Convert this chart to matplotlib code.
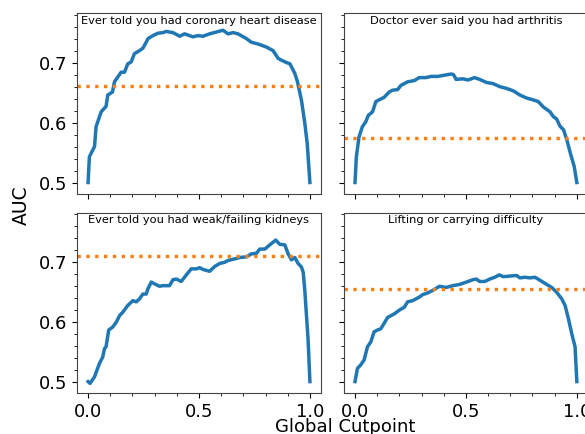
# plot AUC against global cutpoint for four conditions
import matplotlib
matplotlib.use('Agg')
import matplotlib.pyplot as plt
from matplotlib.ticker import MultipleLocator

# panel titles
titles = ['Ever told you had coronary heart disease',
          'Doctor ever said you had arthritis',
          'Ever told you had weak/failing kidneys',
          'Lifting or carrying difficulty']

# baseline AUC for each panel (orange dotted line)
baselines = [0.6605, 0.575, 0.709, 0.655]

# coronary heart disease
chd_x = [0, 0.006, 0.029, 0.036, 0.059, 0.081, 0.089, 0.11, 0.119, 0.149, 0.164, 0.179,
         0.194, 0.209, 0.232, 0.247, 0.262, 0.27, 0.292, 0.315, 0.337, 0.352, 0.383, 0.413,
         0.435, 0.473, 0.495, 0.518, 0.548, 0.578, 0.608, 0.631, 0.654, 0.676, 0.714, 0.736,
         0.767, 0.804, 0.834, 0.857, 0.872, 0.895, 0.91, 0.932, 0.944, 0.962, 0.977, 0.988, 1.0]
chd_auc = [0.5, 0.543, 0.56, 0.593, 0.618, 0.627, 0.646, 0.651, 0.668, 0.684, 0.684, 0.698,
           0.701, 0.715, 0.72, 0.724, 0.734, 0.74, 0.745, 0.749, 0.75, 0.752, 0.75, 0.744,
           0.748, 0.743, 0.745, 0.744, 0.748, 0.751, 0.754, 0.748, 0.75, 0.748, 0.74, 0.734,
           0.731, 0.726, 0.72, 0.707, 0.704, 0.7, 0.698, 0.682, 0.668, 0.637, 0.599, 0.565, 0.5]

# arthritis
arth_x = [0, 0.006, 0.018, 0.033, 0.048, 0.06, 0.079, 0.094, 0.109, 0.131, 0.154, 0.169,
          0.192, 0.207, 0.237, 0.267, 0.29, 0.32, 0.343, 0.373, 0.403, 0.434, 0.444, 0.456,
          0.486, 0.509, 0.539, 0.562, 0.592, 0.622, 0.652, 0.683, 0.713, 0.743, 0.773, 0.811,
          0.826, 0.849, 0.879, 0.894, 0.909, 0.924, 0.94, 0.955, 0.973, 0.988, 1.0]
arth_auc = [0.5, 0.543, 0.576, 0.593, 0.601, 0.612, 0.618, 0.635, 0.638, 0.642, 0.651, 0.654,
            0.655, 0.662, 0.668, 0.67, 0.675, 0.675, 0.677, 0.677, 0.679, 0.681, 0.68, 0.672,
            0.673, 0.671, 0.675, 0.672, 0.667, 0.665, 0.66, 0.657, 0.653, 0.646, 0.641, 0.637,
            0.635, 0.626, 0.618, 0.61, 0.606, 0.594, 0.588, 0.571, 0.546, 0.527, 0.5]

# weak/failing kidneys
kid_x = [0, 0.009, 0.029, 0.051, 0.066, 0.074, 0.081, 0.093, 0.111, 0.127, 0.142, 0.157,
         0.179, 0.202, 0.217, 0.232, 0.247, 0.262, 0.27, 0.285, 0.3, 0.322, 0.337, 0.367,
         0.383, 0.398, 0.42, 0.443, 0.465, 0.488, 0.503, 0.518, 0.548, 0.571, 0.593, 0.616,
         0.631, 0.654, 0.684, 0.714, 0.736, 0.759, 0.774, 0.797, 0.819, 0.846, 0.864, 0.887,
         0.902, 0.917, 0.932, 0.947, 0.962, 0.97, 0.977, 0.985, 0.992, 1.0]
kid_auc = [0.5, 0.497, 0.508, 0.53, 0.541, 0.555, 0.558, 0.586, 0.591, 0.599, 0.61, 0.616,
           0.627, 0.635, 0.633, 0.638, 0.646, 0.646, 0.655, 0.666, 0.663, 0.659, 0.66, 0.66,
           0.67, 0.671, 0.667, 0.678, 0.688, 0.688, 0.69, 0.687, 0.684, 0.692, 0.697, 0.699,
           0.702, 0.704, 0.707, 0.708, 0.713, 0.714, 0.721, 0.721, 0.728, 0.736, 0.729, 0.728,
           0.713, 0.703, 0.707, 0.697, 0.691, 0.682, 0.652, 0.608, 0.569, 0.5]

# lifting or carrying difficulty
lift_x = [0, 0.011, 0.026, 0.041, 0.056, 0.071, 0.086, 0.101, 0.116, 0.131, 0.147, 0.162,
          0.177, 0.199, 0.222, 0.237, 0.26, 0.275, 0.29, 0.305, 0.328, 0.35, 0.381, 0.411,
          0.441, 0.471, 0.502, 0.532, 0.547, 0.562, 0.585, 0.607, 0.63, 0.65, 0.668, 0.698,
          0.728, 0.743, 0.766, 0.789, 0.811, 0.834, 0.864, 0.887, 0.909, 0.932, 0.947, 0.962,
          0.977, 0.992, 1.0]
lift_auc = [0.5, 0.522, 0.528, 0.536, 0.558, 0.566, 0.583, 0.586, 0.588, 0.597, 0.607, 0.61,
            0.613, 0.619, 0.624, 0.633, 0.635, 0.638, 0.641, 0.645, 0.648, 0.652, 0.659, 0.657,
            0.66, 0.662, 0.666, 0.67, 0.671, 0.667, 0.667, 0.671, 0.674, 0.678, 0.675, 0.676,
            0.677, 0.673, 0.674, 0.673, 0.674, 0.669, 0.662, 0.657, 0.649, 0.638, 0.627, 0.605,
            0.58, 0.558, 0.5]

curves = [(chd_x, chd_auc), (arth_x, arth_auc), (kid_x, kid_auc), (lift_x, lift_auc)]

fig, axes = plt.subplots(2, 2, sharex=True, sharey=True, figsize=(5.85, 4.34), dpi=100)
plt.subplots_adjust(left=0.1316, right=1.005, top=0.969, bottom=0.0945, wspace=0.094, hspace=0.103)

for ax, (x, y), base, title in zip(axes.flat, curves, baselines, titles):
    ax.plot(x, y, color='#1f77b4', linewidth=2.5)
    ax.axhline(base, color='#ff7f0e', linestyle=':', linewidth=2.4)
    # title sits inside the panel
    ax.text(0.5, 0.985, title, transform=ax.transAxes, ha='center', va='top', fontsize=8.2)
    ax.xaxis.set_major_locator(MultipleLocator(0.5))
    ax.xaxis.set_minor_locator(MultipleLocator(0.1))
    ax.yaxis.set_major_locator(MultipleLocator(0.1))
    ax.yaxis.set_minor_locator(MultipleLocator(0.02))
    ax.tick_params(labelsize=13)
    for s in ax.spines.values():
        s.set_color('#444444')

axes[0, 0].set_ylim(0.481, 0.782)
axes[0, 0].set_xlim(-0.05, 1.05)

fig.text(0.036, 0.528, 'AUC', rotation=90, ha='center', va='center', fontsize=13.5)
fig.text(0.59, 0.005, 'Global Cutpoint', ha='center', va='baseline', fontsize=13)

plt.savefig('out.png', dpi=100)
